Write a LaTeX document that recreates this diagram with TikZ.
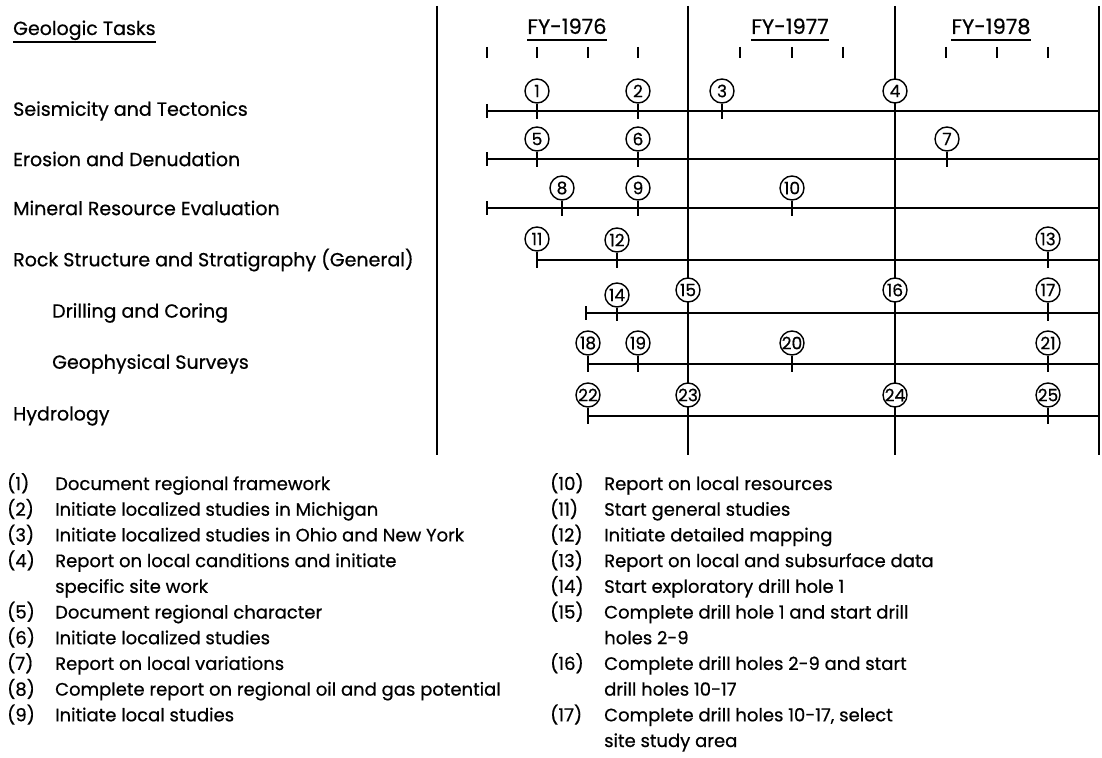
\documentclass[tikz,border=0pt]{standalone}
\usepackage{fontspec}
\setmainfont{Poppins}[FakeBold=0.6]
\usetikzlibrary{positioning}

\begin{document}
\begin{tikzpicture}[x=1pt,y=-1pt,font=\fontsize{19}{22}\selectfont,
  task/.style={anchor=west,inner sep=0pt},
  fy/.style={anchor=base,inner sep=0pt,font=\fontsize{21}{24}\selectfont},
  ms/.style={draw,circle,fill=white,line width=1.4pt,inner sep=0pt,
    minimum size=24pt,font=\fontsize{17}{17}\selectfont},
  stem/.style={line width=1.8pt},
  row/.style={line width=2.6pt},
  divider/.style={line width=1.8pt},
  uline/.style={line width=1.3pt},
  tick/.style={line width=1.8pt},
  notes/.style={anchor=north west,inner sep=0pt,align=left,
    font=\fontsize{18}{25.7}\selectfont}]
\useasboundingbox (0,0) rectangle (1102,757);
% headings
\node[anchor=base west,inner sep=0pt] (head) at (13,35) {Geologic Tasks};
\draw[uline] (13,42) -- (head.east |- 0,42);
\foreach \x/\yr in {567/1976,790/1977,991/1978} {
  \node[fy] (fy\yr) at (\x,34) {FY-\yr};
  \draw[uline] (fy\yr.west |- 0,40) -- (fy\yr.east |- 0,40);
}
\foreach \x in {487,537,588,638,740,792,843,946,997,1048}
  \draw[tick] (\x,47) -- (\x,58);
% fiscal year dividers
\draw[line width=1.4pt] (437,6) -- (437,455);
\foreach \x in {688,895,1099}
  \draw[divider] (\x,6) -- (\x,455);
% task rows
\foreach \y/\s/\ind/\lab [count=\i] in {
    111/487/13/{Seismicity and Tectonics},
    159/487/13/{Erosion and Denudation},
    208/487/13/{Mineral Resource Evaluation},
    260/537/13/{Rock Structure and Stratigraphy (General)},
    313/586/52/{Drilling and Coring},
    364/588/52/{Geophysical Surveys},
    416/588/13/{Hydrology}} {
  \node[task] (t\i) at (\ind,\y) {\lab};
  \coordinate (r\i) at (\s,\y);
  \draw[row] (r\i) -- (1099,\y);
}
\foreach \i in {1,2,3,5}
  \draw[tick] ([yshift=7pt]r\i) -- ([yshift=-7pt]r\i);
% milestones
\foreach \n/\x/\y/\d in {1/537/111/20,2/638/111/20,3/722/111/20,4/895/111/20,
    5/537/159/20,6/638/159/20,7/947/159/20,
    8/562/208/20,9/638/208/20,10/792/208/20,
    11/537/260/21,12/617/260/20,13/1048/260/21,
    14/617/313/18,15/688/313/23,16/895/313/23,17/1048/313/23,
    18/588/364/21,19/638/364/21,20/792/364/21,21/1048/364/21,
    22/588/416/21,23/688/416/21,24/895/416/21,25/1048/416/21} {
  \node[ms] (m\n) at (\x,\y-\d) {\n};
  \draw[stem] (m\n.south) -- (\x,\y+8);
}
% key
\node[notes] (keyA) at (7,473) {%
  \makebox[48pt][l]{(1)}Document regional framework\\
  \makebox[48pt][l]{(2)}Initiate localized studies in Michigan\\
  \makebox[48pt][l]{(3)}Initiate localized studies in Ohio and New York\\
  \makebox[48pt][l]{(4)}Report on local canditions and initiate\\
  \hspace*{48pt}specific site work\\
  \makebox[48pt][l]{(5)}Document regional character\\
  \makebox[48pt][l]{(6)}Initiate localized studies\\
  \makebox[48pt][l]{(7)}Report on local variations\\
  \makebox[48pt][l]{(8)}Complete report on regional oil and gas potential\\
  \makebox[48pt][l]{(9)}Initiate local studies};
\node[notes] (keyB) at (550,473) {%
  \makebox[54pt][l]{(10)}Report on local resources\\
  \makebox[54pt][l]{(11)}Start general studies\\
  \makebox[54pt][l]{(12)}Initiate detailed mapping\\
  \makebox[54pt][l]{(13)}Report on local and subsurface data\\
  \makebox[54pt][l]{(14)}Start exploratory drill hole 1\\
  \makebox[54pt][l]{(15)}Complete drill hole 1 and start drill\\
  \hspace*{54pt}holes 2-9\\
  \makebox[54pt][l]{(16)}Complete drill holes 2-9 and start\\
  \hspace*{54pt}drill holes 10-17\\
  \makebox[54pt][l]{(17)}Complete drill holes 10-17, select\\
  \hspace*{54pt}site study area};
\end{tikzpicture}
\end{document}
